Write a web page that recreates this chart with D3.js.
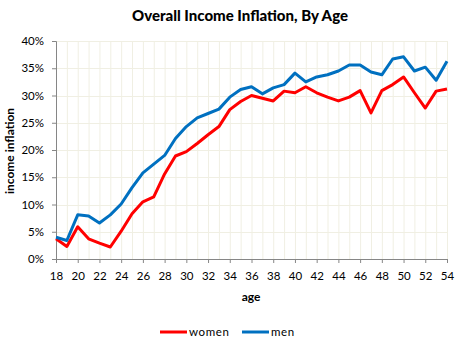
<!DOCTYPE html>
<html>
<head>
<meta charset="utf-8">
<script src="https://cdn.jsdelivr.net/npm/d3@7"></script>
<style>
  body { margin: 0; background: #fff; }
  text { font-family: Lato, "Open Sans", sans-serif; }
</style>
</head>
<body>
<div id="chart"></div>
<script>
// ages along the x axis
const ages = d3.range(18, 55)
// income inflation (%)
const women = [3.7, 2.3, 5.9, 3.7, 2.9, 2.2, 5.1, 8.3, 10.5, 11.4, 15.6, 18.9, 19.7, 21.2, 22.8, 24.3, 27.4, 28.9, 30.0, 29.5, 29.0, 30.8, 30.5, 31.6, 30.5, 29.7, 29.0, 29.7, 30.9, 26.8, 30.9, 32.0, 33.4, 30.5, 27.7, 30.8, 31.2]
const men = [4.0, 3.4, 8.1, 7.9, 6.6, 8.1, 10.1, 13.1, 15.8, 17.4, 19.0, 22.1, 24.3, 25.9, 26.7, 27.5, 29.7, 31.1, 31.6, 30.3, 31.4, 32.0, 34.1, 32.5, 33.4, 33.8, 34.5, 35.6, 35.6, 34.3, 33.8, 36.7, 37.1, 34.5, 35.2, 32.8, 36.3]
const yTicks = [0, 5, 10, 15, 20, 25, 30, 35, 40]
const xTicks = d3.range(18, 55, 2)

const series = [
    {name: 'women', values: women, color: '#ff0000'},
    {name: 'men', values: men, color: '#0070c0'}
]

const width = 461
const height = 343
const plotLeft = 56, plotRight = 447, plotTop = 41, plotBottom = 259

const svg = d3.select('#chart')
    .append('svg')
    .attr('width', width)
    .attr('height', height)

const xScale = d3.scaleLinear().domain([18, 54]).range([plotLeft, plotRight])
const yScale = d3.scaleLinear().domain([0, 40]).range([plotBottom, plotTop])

// grid lines, one per year and one per 5%
svg.append('g')
    .selectAll('line')
    .data(ages.slice(1))
    .join('line')
    .attr('x1', d => xScale(d) + 0.5).attr('x2', d => xScale(d) + 0.5)
    .attr('y1', plotTop).attr('y2', plotBottom)
    .attr('stroke', '#f0efe3')

svg.append('g')
    .selectAll('line')
    .data(yTicks.slice(1))
    .join('line')
    .attr('x1', plotLeft).attr('x2', plotRight)
    .attr('y1', d => Math.round(yScale(d)) + 0.5).attr('y2', d => Math.round(yScale(d)) + 0.5)
    .attr('stroke', '#f0efe3')

const yAxis = d3.axisLeft(yScale)
    .tickValues(yTicks)
    .tickFormat(d => d + '%')
    .tickSize(4)
    .tickPadding(8)

const xAxis = d3.axisBottom(xScale)
    .tickValues(xTicks)
    .tickSize(4)
    .tickPadding(9)

const yAxisGroup = svg.append('g')
    .attr('class', 'y-axis')
    .attr('transform', `translate(${plotLeft},0)`)
    .call(yAxis)

const xAxisGroup = svg.append('g')
    .attr('class', 'x-axis')
    .attr('transform', `translate(0,${plotBottom})`)
    .call(xAxis)

svg.selectAll('.domain, .tick line').attr('stroke', '#868686')
svg.selectAll('.tick text')
    .style('font-size', '11.5px')
    .attr('fill', '#000')

// the two lines
const line = d3.line()
    .x((d, i) => xScale(ages[i]))
    .y(d => yScale(d))

svg.append('g')
    .selectAll('path')
    .data(series)
    .join('path')
    .attr('d', d => line(d.values))
    .attr('fill', 'none')
    .attr('stroke', d => d.color)
    .attr('stroke-width', 3)
    .attr('stroke-linejoin', 'round')

// titles
svg.append('text')
    .attr('x', 240).attr('y', 21)
    .attr('text-anchor', 'middle')
    .style('font-size', '15px').style('font-weight', '900')
    .text('Overall Income Inflation, By Age')

svg.append('text')
    .attr('x', 251).attr('y', 301)
    .attr('text-anchor', 'middle')
    .style('font-size', '12px').style('font-weight', 'bold')
    .text('age')

svg.append('text')
    .attr('transform', 'translate(14,151) rotate(-90)')
    .attr('text-anchor', 'middle')
    .style('font-size', '12px').style('font-weight', 'bold')
    .text('income inflation')

// legend
const legendX = [160, 242]
const legend = svg.append('g')
    .selectAll('g')
    .data(series)
    .join('g')
    .attr('transform', (d, i) => `translate(${legendX[i]},332)`)

legend.append('line')
    .attr('x1', 0).attr('x2', 27)
    .attr('stroke', d => d.color)
    .attr('stroke-width', 3)

legend.append('text')
    .attr('x', 29).attr('y', 4)
    .style('font-size', '11.5px')
    .style('letter-spacing', '0.6px')
    .text(d => d.name)
</script>
</body>
</html>
